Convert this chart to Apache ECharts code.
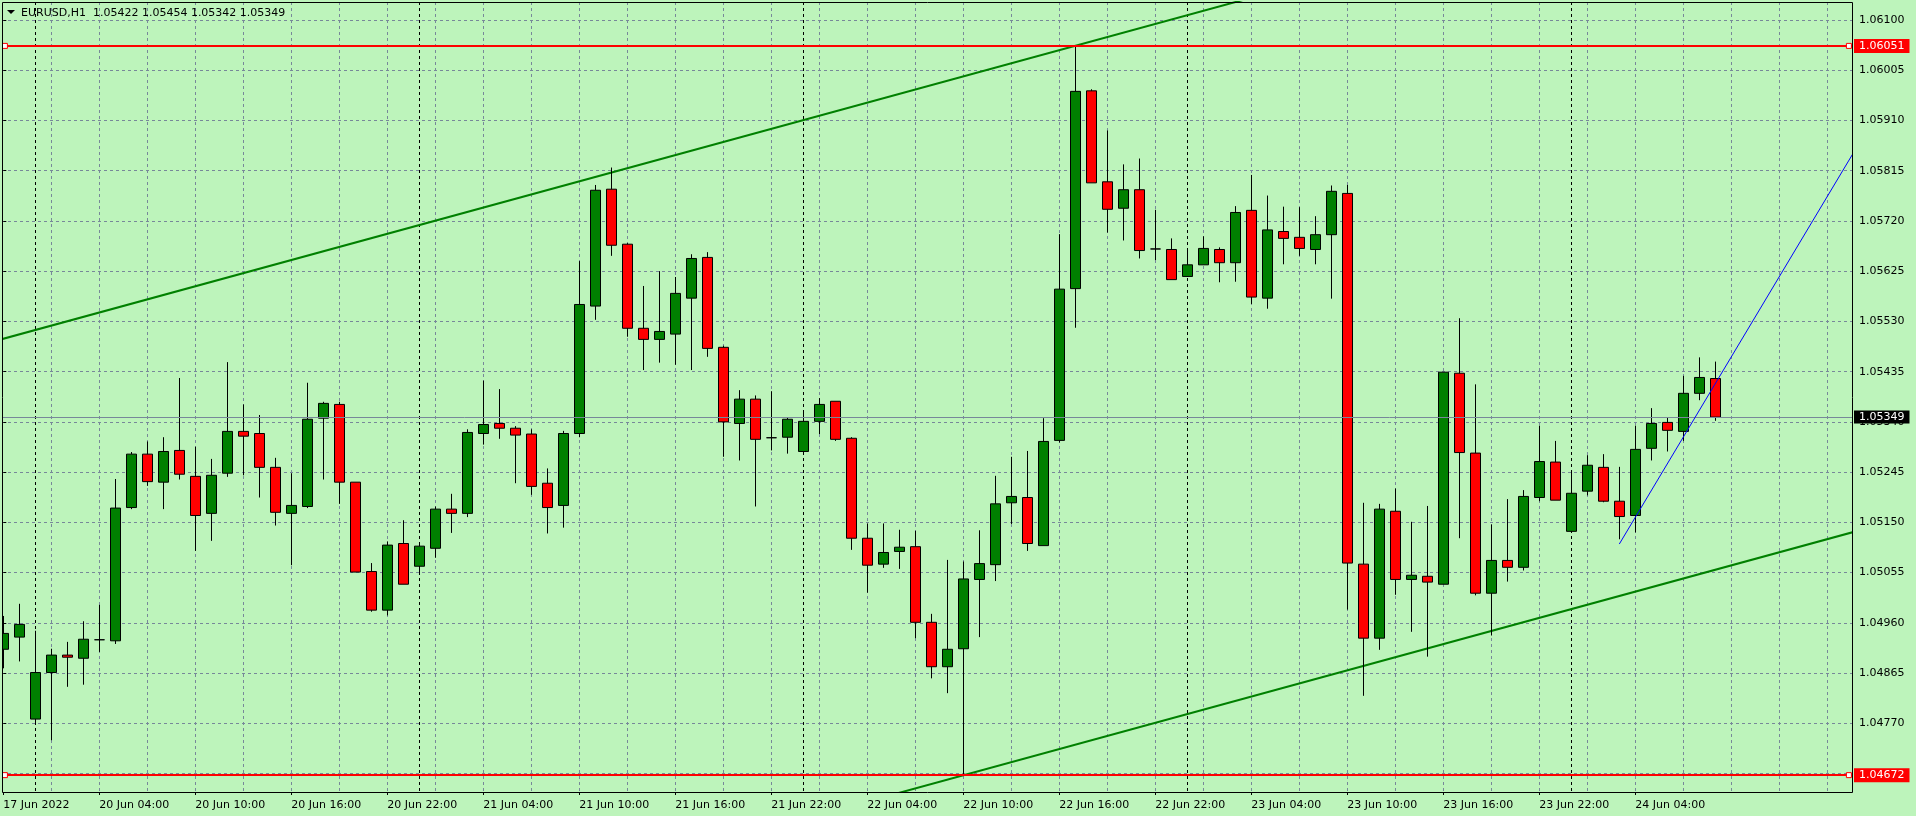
<!DOCTYPE html>
<html><head><meta charset="utf-8">
<script src="https://cdn.jsdelivr.net/npm/echarts@6/dist/echarts.min.js"></script>
<style>html,body{margin:0;padding:0;background:#bdf4bb;}#c{width:1916px;height:816px;}</style>
</head><body><div id="c"></div>
<script>
const symbolName = 'EURUSD,H1';
const barOpen = [1.04910,1.04933,1.04778,1.04866,1.04899,1.04893,1.04928,1.04926,1.05178,1.05279,
1.05226,1.05286,1.05237,1.05167,1.05243,1.05322,1.05318,1.05254,1.05167,1.05180,
1.05347,1.05373,1.05226,1.05057,1.04984,1.05110,1.05067,1.05101,1.05175,1.05167,
1.05318,1.05337,1.05328,1.05317,1.05224,1.05182,1.05318,1.05559,1.05780,1.05676,
1.05517,1.05496,1.05506,1.05574,1.05651,1.05481,1.05337,1.05383,1.05310,1.05311,
1.05284,1.05341,1.05379,1.05309,1.05120,1.05071,1.05095,1.05104,1.04961,1.04877,
1.04911,1.05042,1.05070,1.05187,1.05197,1.05106,1.05305,1.05592,1.05966,1.05794,
1.05744,1.05779,1.05667,1.05666,1.05615,1.05637,1.05666,1.05641,1.05740,1.05574,
1.05700,1.05689,1.05666,1.05694,1.05772,1.05071,1.04931,1.05171,1.05042,1.05048,
1.05033,1.05432,1.05281,1.05016,1.05078,1.05065,1.05197,1.05264,1.05133,1.05209,
1.05254,1.05190,1.05163,1.05290,1.05339,1.05322,1.05394,1.05422];
const barClose = [1.04940,1.04957,1.04866,1.04899,1.04895,1.04929,1.04928,1.05177,1.05279,1.05227,
1.05284,1.05241,1.05163,1.05239,1.05322,1.05313,1.05254,1.05169,1.05182,1.05345,
1.05375,1.05226,1.05056,1.04984,1.05107,1.05033,1.05105,1.05175,1.05167,1.05320,
1.05335,1.05328,1.05315,1.05218,1.05178,1.05318,1.05562,1.05778,1.05674,1.05517,
1.05496,1.05511,1.05583,1.05649,1.05479,1.05340,1.05383,1.05307,1.05310,1.05345,
1.05341,1.05373,1.05307,1.05120,1.05069,1.05093,1.05103,1.04961,1.04877,1.04910,
1.05043,1.05072,1.05185,1.05199,1.05110,1.05303,1.05591,1.05965,1.05792,1.05742,
1.05779,1.05664,1.05667,1.05609,1.05637,1.05668,1.05641,1.05736,1.05576,1.05703,
1.05687,1.05668,1.05694,1.05776,1.05073,1.04931,1.05175,1.05042,1.05050,1.05037,
1.05434,1.05282,1.05016,1.05078,1.05065,1.05199,1.05265,1.05192,1.05205,1.05258,
1.05190,1.05161,1.05288,1.05337,1.05324,1.05394,1.05424,1.05349];
const barLow = [1.04874,1.04887,1.04770,1.04738,1.04839,1.04843,1.04905,1.04920,1.05175,1.05219,
1.05175,1.05231,1.05096,1.05115,1.05236,1.05239,1.05197,1.05144,1.05069,1.05177,
1.05231,1.05185,1.05056,1.04981,1.04974,1.05033,1.05056,1.05083,1.05130,1.05160,
1.05297,1.05308,1.05224,1.05202,1.05129,1.05140,1.05311,1.05533,1.05654,1.05501,
1.05438,1.05452,1.05448,1.05438,1.05463,1.05274,1.05267,1.05180,1.05286,1.05280,
1.05279,1.05317,1.05304,1.05098,1.05017,1.05064,1.05062,1.04931,1.04855,1.04827,
1.04672,1.04933,1.05039,1.05147,1.05096,1.05106,1.05301,1.05518,1.05792,1.05698,
1.05683,1.05649,1.05646,1.05609,1.05614,1.05637,1.05604,1.05605,1.05563,1.05554,
1.05638,1.05654,1.05638,1.05573,1.04985,1.04822,1.04909,1.05013,1.04943,1.04896,
1.05033,1.05120,1.05012,1.04936,1.05038,1.05059,1.05190,1.05192,1.05133,1.05201,
1.05188,1.05118,1.05131,1.05267,1.05284,1.05304,1.05381,1.05342];
const barHigh = [1.04973,1.04996,1.04945,1.04911,1.04924,1.04963,1.04994,1.05232,1.05283,1.05303,
1.05311,1.05423,1.05293,1.05270,1.05453,1.05373,1.05353,1.05272,1.05243,1.05414,
1.05378,1.05378,1.05226,1.05073,1.05114,1.05154,1.05112,1.05180,1.05204,1.05326,
1.05418,1.05402,1.05332,1.05326,1.05252,1.05323,1.05644,1.05788,1.05821,1.05678,
1.05597,1.05625,1.05614,1.05657,1.05661,1.05484,1.05400,1.05390,1.05398,1.05348,
1.05357,1.05385,1.05379,1.05311,1.05148,1.05148,1.05136,1.05134,1.04977,1.05079,
1.05076,1.05135,1.05238,1.05274,1.05285,1.05347,1.05695,1.06051,1.05969,1.05891,
1.05827,1.05838,1.05741,1.05687,1.05668,1.05691,1.05670,1.05748,1.05807,1.05768,
1.05747,1.05746,1.05729,1.05787,1.05788,1.05187,1.05185,1.05214,1.05151,1.05181,
1.05434,1.05536,1.05411,1.05146,1.05194,1.05211,1.05333,1.05304,1.05247,1.05277,
1.05279,1.05255,1.05333,1.05366,1.05349,1.05427,1.05462,1.05454];

const tickBars = [0,6,12,18,24,30,36,42,48,54,60,66,72,78,84,90,96,102];
const tickLabels = ['17 Jun 2022','20 Jun 04:00','20 Jun 10:00','20 Jun 16:00','20 Jun 22:00',
  '21 Jun 04:00','21 Jun 10:00','21 Jun 16:00','21 Jun 22:00','22 Jun 04:00','22 Jun 10:00',
  '22 Jun 16:00','22 Jun 22:00','23 Jun 04:00','23 Jun 10:00','23 Jun 16:00','23 Jun 22:00','24 Jun 04:00'];
const gridBars = [3,6,9,12,15,18,21,24,27,30,33,36,39,42,45,48,51,54,57,60,63,66,69,72,75,78,81,84,87,90,93,96,99,102,105,108,111,114];
const daySeparatorBars = [2,26,50,74,98];
const priceGridTicks = [1.04675,1.04770,1.04865,1.04960,1.05055,1.05150,1.05245,1.05340,1.05435,1.05530,1.05625,1.05720,1.05815,1.05910,1.06005,1.06100];
const priceLabelTicks = [1.04770,1.04865,1.04960,1.05055,1.05150,1.05245,1.05340,1.05435,1.05530,1.05625,1.05720,1.05815,1.05910,1.06005,1.06100];
const redLevels = [1.06051, 1.04672];
const bidPrice = 1.05349;
const channelUpper = [[-1, 1.05489],[85, 1.06200]];
const channelLower = [[50, 1.04589],[117, 1.05143]];
const blueTrend = [[101, 1.05109],[117, 1.05918]];
const levelAnchorBars = [0.1, 115.35];
const xRange = [-0.08125, 115.54375];
const yRange = [1.046401, 1.061340];

const BG = '#bdf4bb';
const FONT = 'DejaVu Sans';
const fmt = v => v.toFixed(5);

const candleData = barOpen.map((o, i) => [i, o, barClose[i], barLow[i], barHigh[i]]);
const last = barOpen.length - 1;
const headerText = symbolName + '  ' + fmt(barOpen[last]) + ' ' + fmt(barHigh[last]) + ' ' + fmt(barLow[last]) + ' ' + fmt(barClose[last]);

const chart = echarts.init(document.getElementById('c'), null, {renderer: 'canvas'});
const hiddenX = (vals, color, dash) => ({
  type: 'value', min: xRange[0], max: xRange[1], position: 'bottom', gridIndex: 0,
  axisLine: {show: false}, axisLabel: {show: false},
  axisTick: {show: false, customValues: vals},
  splitLine: {show: true, lineStyle: {color: color, width: 1, type: dash}}
});

const levelMarkPoints = [];
redLevels.forEach(l => levelAnchorBars.forEach(b => levelMarkPoints.push({coord: [b, l]})));

const levelLabel = (bg, lh) => ({show: true, position: 'end', distance: 2, color: '#ffffff', backgroundColor: bg,
  padding: [1, 5, 0, 5], fontFamily: FONT, fontSize: 11, lineHeight: lh, formatter: p => fmt(p.value)});

chart.setOption({
  animation: false,
  backgroundColor: BG,
  grid: {left: 2, right: 64, top: 2, bottom: 24, containLabel: false, outerBoundsMode: 'none', show: false},
  xAxis: [
    {
      type: 'value', min: xRange[0], max: xRange[1], position: 'bottom',
      axisLine: {show: false},
      axisTick: {show: true, length: 3, customValues: tickBars, lineStyle: {color: '#000'}},
      axisLabel: {
        show: true, customValues: tickBars, align: 'left', margin: 8,
        color: '#000', fontFamily: FONT, fontSize: 11,
        formatter: v => { const k = tickBars.indexOf(Math.round(v)); return k >= 0 ? tickLabels[k] : ''; }
      },
      splitLine: {show: false}
    },
    hiddenX(gridBars, '#778899', [3, 3]),
    hiddenX(daySeparatorBars, '#000000', [3, 3])
  ],
  yAxis: {
    type: 'value', min: yRange[0], max: yRange[1], position: 'right', scale: true,
    axisLine: {show: false},
    axisTick: {show: true, length: 3, customValues: priceGridTicks, lineStyle: {color: '#000'}},
    axisLabel: {show: true, customValues: priceLabelTicks, margin: 7, color: '#000', fontFamily: FONT, fontSize: 11,
      formatter: v => fmt(v)},
    splitLine: {show: true, lineStyle: {color: '#778899', width: 1, type: [3, 3]}}
  },
  series: [
    {
      type: 'line', data: channelUpper, symbol: 'none', clip: true, silent: true,
      lineStyle: {color: '#008000', width: 2}, z: 3
    },
    {
      type: 'line', data: channelLower, symbol: 'none', clip: true, silent: true,
      lineStyle: {color: '#008000', width: 2}, z: 3
    },
    {
      type: 'candlestick', data: candleData, encode: {x: 0, y: [1, 2, 3, 4]},
      barWidth: 10, clip: true, z: 4,
      itemStyle: {color: '#008000', color0: '#ff0000', borderColor: '#000', borderColor0: '#000', borderColorDoji: '#000', borderWidth: 1}
    },
    {
      type: 'line', data: blueTrend, symbol: 'none', clip: true, silent: true,
      lineStyle: {color: '#0000ff', width: 1}, z: 5,
      markLine: {
        silent: true, symbol: 'none', animation: false, precision: 5,
        data: [
          ...redLevels.map(l => ({yAxis: l, lineStyle: {color: '#ff0000', width: 2, type: 'solid'}, label: levelLabel('#ff0000', 13)})),
          {yAxis: bidPrice, lineStyle: {color: '#778899', width: 1, type: 'solid'}, label: levelLabel('#000000', 12)}
        ]
      },
      markPoint: {
        silent: true, symbol: 'rect', symbolSize: 5, animation: false,
        itemStyle: {color: '#ffffff', borderColor: '#ff0000', borderWidth: 1},
        label: {show: false},
        data: levelMarkPoints
      }
    }
  ],
  graphic: [
    {type: 'rect', shape: {x: 0, y: 0, width: 2, height: 816}, style: {fill: BG}, z: 100, silent: true},
    {type: 'rect', shape: {x: 2.5, y: 2.5, width: 1850, height: 790}, style: {fill: 'transparent', stroke: '#000', lineWidth: 1}, z: 101, silent: true},
    {type: 'polygon', shape: {points: [[7, 10], [15, 10], [11, 14]]}, style: {fill: '#000'}, z: 101, silent: true},
    {type: 'text', x: 21, y: 13, style: {text: headerText, font: '11px "DejaVu Sans"', fill: '#000', verticalAlign: 'middle'}, z: 101, silent: true}
  ]
});
</script>
</body></html>
